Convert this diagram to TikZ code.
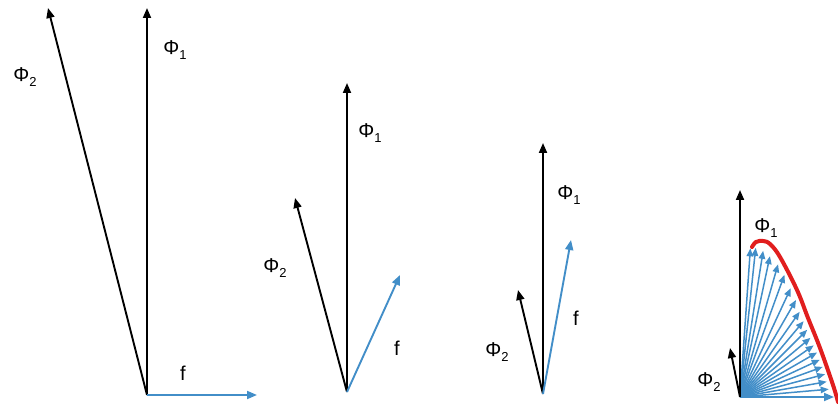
\documentclass[tikz,border=0pt]{standalone}
\usepackage{fontspec}
\setmainfont{Liberation Sans}
\usetikzlibrary{arrows.meta}
\definecolor{fblue}{RGB}{66,142,200}
\definecolor{cred}{RGB}{225,30,30}
\newcommand{\phisub}[1]{{\fontsize{20}{20}\selectfont Φ\raisebox{-0.45ex}{\fontsize{13}{13}\selectfont #1}}}
\tikzset{
  vec/.style={line width=1.9pt, -{Triangle[length=10pt,width=8pt]}},
  bvec/.style={vec, draw=fblue},
  kvec/.style={vec, draw=black},
  thinb/.style={line width=1.5pt, draw=fblue, -{Triangle[length=8pt,width=6.5pt]}},
  lab/.style={inner sep=0pt, font=\fontsize{20}{20}\selectfont},
}
\begin{document}
\begin{tikzpicture}[x=1pt,y=1pt]
\useasboundingbox (0,0) rectangle (838,410);
% ---------- panel 1 ----------
\coordinate (o1) at (147,15);
\coordinate (a1) at (147,402);
\coordinate (b1) at (48,402);
\coordinate (c1) at (257,15);
\draw[kvec] (o1) -- (a1);
\draw[kvec] (o1) -- (b1);
\draw[bvec] (o1) -- (c1);
\node[lab] (p11) at (175,360) {\phisub{1}};
\node[lab] (p12) at (25,333) {\phisub{2}};
\node[lab] (f1) at (183,37) {f};
% ---------- panel 2 ----------
\coordinate (o2) at (347,18);
\coordinate (a2) at (347,327);
\coordinate (b2) at (295,212);
\coordinate (c2) at (400,135);
\draw[kvec] (o2) -- (a2);
\draw[kvec] (o2) -- (b2);
\draw[bvec] (o2) -- (c2);
\node[lab] (p21) at (370,277) {\phisub{1}};
\node[lab] (p22) at (275,142) {\phisub{2}};
\node[lab] (f2) at (397,62) {f};
% ---------- panel 3 ----------
\coordinate (o3) at (543,16);
\coordinate (a3) at (543,267);
\coordinate (b3) at (518,120);
\coordinate (c3) at (571,170);
\draw[kvec] (o3) -- (a3);
\draw[kvec] (o3) -- (b3);
\draw[bvec] (o3) -- (c3);
\node[lab] (p31) at (569,215) {\phisub{1}};
\node[lab] (p32) at (497,58) {\phisub{2}};
\node[lab] (f3) at (576,92) {f};
% ---------- panel 4 ----------
\coordinate (o4) at (740,13);
\foreach \ang/\rad in {5/89,10/88,15/88,20/88,25/88,30/89,35/90,40/92,45/95,50/99,55/104,60/112,65/120,70/130,74/138,78/144,81/148,84/150,86/149}
  \draw[thinb] (o4) -- ++(\ang:\rad);
\coordinate (c4) at (834,13);
\draw[bvec] (o4) -- (c4);
\coordinate (a4) at (740,220);
\coordinate (b4) at (730,62);
\draw[kvec] (o4) -- (a4);
\draw[kvec] (o4) -- (b4);
\draw[cred, line width=4pt, line cap=round] plot[smooth, tension=0.6] coordinates
  {(752,163) (756,168) (763,169) (770,166) (780,153) (797,120) (808,92) (820,62) (833,25) (838,8)};
\node[lab] (p41) at (766,182) {\phisub{1}};
\node[lab] (p42) at (709,28) {\phisub{2}};
\end{tikzpicture}
\end{document}
